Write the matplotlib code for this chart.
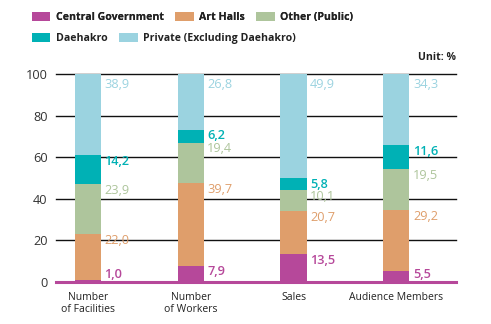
import matplotlib
matplotlib.use("Agg")
import matplotlib.pyplot as plt
import numpy as np

# Share of each sector by indicator (%)
categories = ["Number\nof Facilities", "Number\nof Workers", "Sales", "Audience Members"]
series_names = ["Central Government", "Art Halls", "Other (Public)", "Daehakro",
                "Private (Excluding Daehakro)"]
central_gov = [1.0, 7.9, 13.5, 5.5]
art_halls = [22.0, 39.7, 20.7, 29.2]
other_public = [23.9, 19.4, 10.1, 19.5]
daehakro = [14.2, 6.2, 5.8, 11.6]
private = [38.9, 26.8, 49.9, 34.3]
y_ticks = [0, 20, 40, 60, 80, 100]

colors = ["#B6489A", "#DF9E6B", "#AEC59C", "#00B1B5", "#9BD3E0"]
series = [central_gov, art_halls, other_public, daehakro, private]

FONT = ["Open Sans", "DejaVu Sans"]
plt.rcParams["font.family"] = FONT

fig = plt.figure(figsize=(4.91, 3.24), dpi=100)
ax = fig.add_axes([56 / 491, 1 - 282 / 324, 400 / 491, 208 / 324])

x = np.arange(len(categories))
width = 0.255
bottom = np.zeros(len(categories))
containers = []
for name, vals, col in zip(series_names, series, colors):
    vals = np.array(vals)
    bc = ax.bar(x, vals, width, bottom=bottom, color=col, label=name, zorder=3,
                linewidth=0)
    containers.append(bc)
    tops = bottom + vals
    for xi, top, v in zip(x, tops, vals):
        if col == colors[-1]:
            ly = top - 5
        else:
            ly = max(top - 3, 3.4)
        ax.annotate(f"{v:.1f}".replace(".", ","), xy=(xi + width / 2, ly),
                    xytext=(2.5, 0), textcoords="offset points", ha="left",
                    va="center", color=col, fontsize=9.2,
                    fontweight="semibold" if col in (colors[0], colors[3]) else "normal",
                    zorder=4)
    bottom = tops

ax.set_xlim(-0.31, 3.58)
ax.set_ylim(0, 100)
ax.set_yticks(y_ticks)
ax.set_yticklabels([str(t) for t in y_ticks], fontsize=9.2, color="#333333")
ax.tick_params(axis="y", length=0, pad=6)
ax.set_xticks(x)
ax.set_xticklabels(categories, fontsize=7.5, color="#222222", linespacing=1.05)
ax.tick_params(axis="x", length=0, pad=7.5)

for t in y_ticks[1:]:
    ax.axhline(t, color="#111111", linewidth=1.0, zorder=1, clip_on=False)

for s in ["top", "right", "left"]:
    ax.spines[s].set_visible(False)
ax.spines["bottom"].set_color(colors[0])
ax.spines["bottom"].set_linewidth(2.2)
ax.spines["bottom"].set_zorder(5)

# Two-row legend at the top
leg_kw = dict(frameon=False, loc="upper left", borderpad=0, borderaxespad=0,
              handlelength=1.75, handleheight=0.85, handletextpad=0.5,
              columnspacing=1.1, prop={"family": FONT, "weight": "bold", "size": 7.6})
leg1 = fig.legend(handles=containers[:3], labels=series_names[:3], ncol=3,
                  bbox_to_anchor=(32 / 491, 1 - 12 / 324), **leg_kw)
for t in leg1.get_texts():
    t.set_color("#222222")
leg2 = fig.legend(handles=containers[3:], labels=series_names[3:], ncol=2,
                  bbox_to_anchor=(32 / 491, 1 - 33 / 324), **leg_kw)
for t in leg2.get_texts():
    t.set_color("#222222")
fig.add_artist(leg1)

fig.text(456 / 491, 1 - 58 / 324, "Unit: %", ha="right", va="center",
         fontsize=7.6, fontweight="bold", color="#222222")

fig.savefig("out.png", dpi=100)
